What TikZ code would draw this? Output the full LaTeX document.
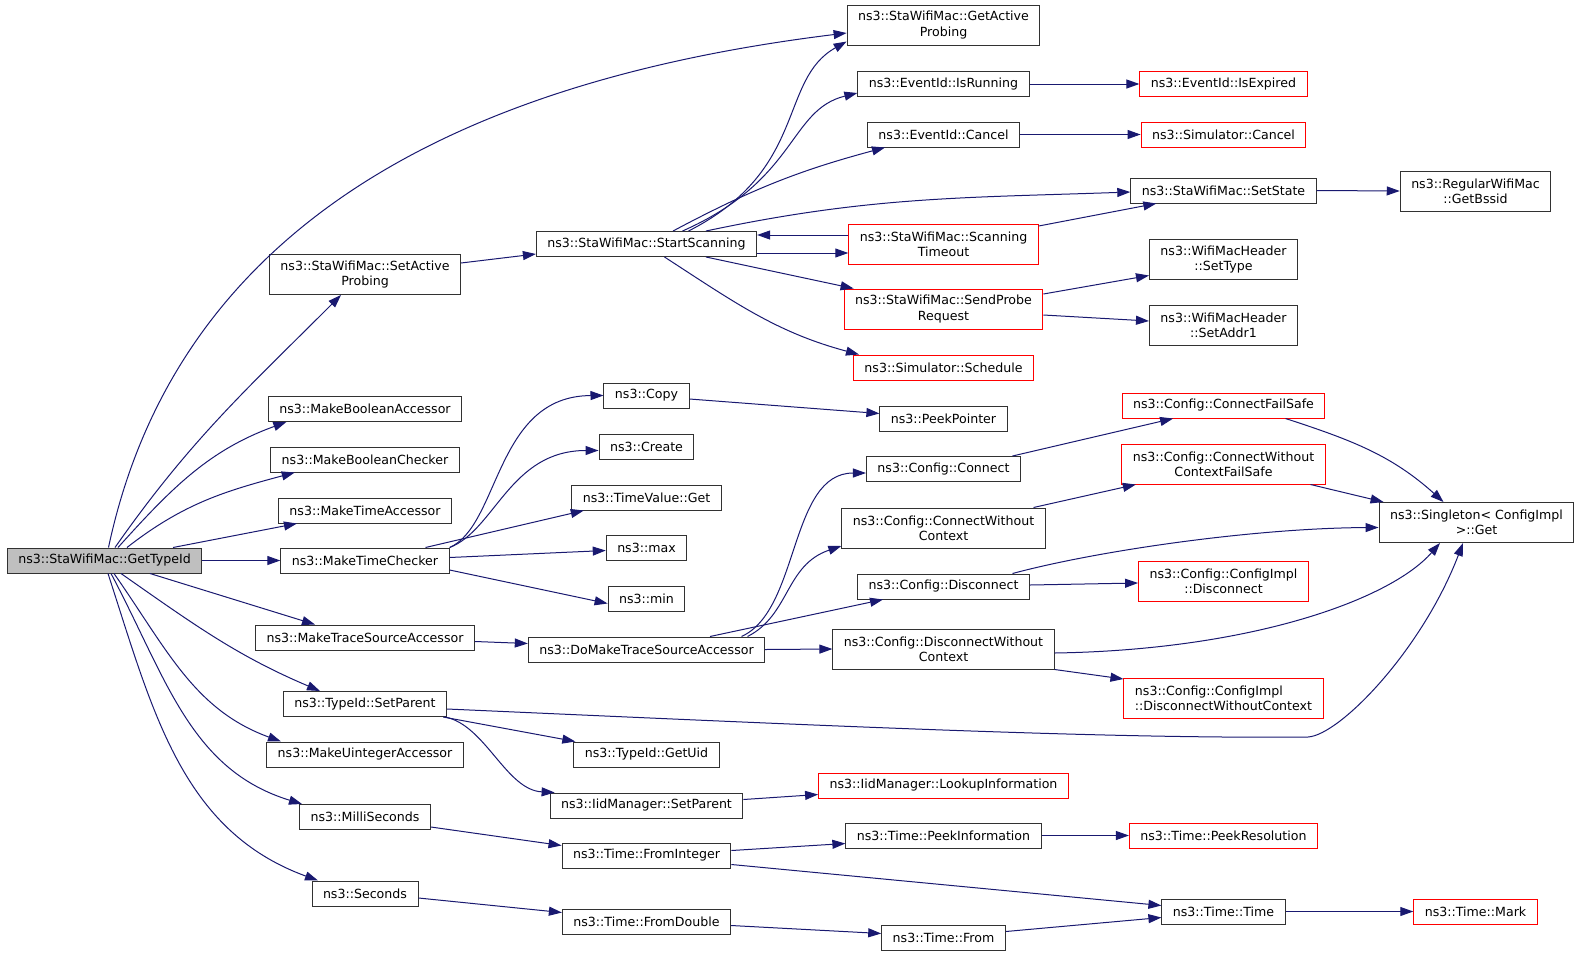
\documentclass[tikz,border=0pt]{standalone}
\usepackage{fontspec}
\setmainfont{DejaVu Sans}
\usepackage{tikz}
\usetikzlibrary{arrows.meta, positioning}
\definecolor{edgeblue}{RGB}{25, 25, 112}
\definecolor{boxgray}{RGB}{50, 50, 50}
\definecolor{rootfill}{RGB}{191, 191, 191}
\definecolor{boxred}{RGB}{255, 0, 0}

\begin{document}
\begin{tikzpicture}[x=1pt, y=-1pt,
  fnbox/.style={draw=boxgray, line width=1pt, fill=white, font=\fontsize{12.6}{15.3}\selectfont, inner xsep=11pt, inner ysep=2pt, minimum height=25pt, align=center},
  fntwo/.style={fnbox, minimum height=40pt},
  fnred/.style={draw=boxred},
  fnroot/.style={fill=rootfill},
  callarrow/.style={-{Triangle[length=13pt, width=9pt]}, line width=1pt, color=edgeblue}]
  \useasboundingbox (0, 0) rectangle (1581, 956);

  % Root
  \node[fnbox, fnroot] (gettypeid) at (104.5, 560.5) {ns3::StaWifiMac::GetTypeId};

  % Level 1
  \node[fntwo] (setap) at (365, 274.5) {ns3::StaWifiMac::SetActive\\Probing};
  \node[fnbox] (mkboolacc) at (365, 409) {ns3::MakeBooleanAccessor};
  \node[fnbox] (mkboolchk) at (365, 459.5) {ns3::MakeBooleanChecker};
  \node[fnbox] (mktimeacc) at (365, 510.5) {ns3::MakeTimeAccessor};
  \node[fnbox] (mktimechk) at (365, 560.5) {ns3::MakeTimeChecker};
  \node[fnbox] (mktrace) at (365, 637.5) {ns3::MakeTraceSourceAccessor};
  \node[fnbox] (setparent) at (365, 704) {ns3::TypeId::SetParent};
  \node[fnbox] (mkuint) at (365, 754.5) {ns3::MakeUintegerAccessor};
  \node[fnbox] (millisec) at (365, 817) {ns3::MilliSeconds};
  \node[fnbox] (seconds) at (365, 893.5) {ns3::Seconds};

  % Level 2
  \node[fnbox] (startscan) at (646.5, 244) {ns3::StaWifiMac::StartScanning};
  \node[fnbox] (copy) at (646.5, 395.5) {ns3::Copy};
  \node[fnbox] (create) at (646.5, 446.5) {ns3::Create};
  \node[fnbox] (tvget) at (646.5, 497.5) {ns3::TimeValue::Get};
  \node[fnbox] (tmax) at (646.5, 547.5) {ns3::max};
  \node[fnbox] (tmin) at (646.5, 598.5) {ns3::min};
  \node[fnbox] (domake) at (646.5, 649.5) {ns3::DoMakeTraceSourceAccessor};
  \node[fnbox] (getuid) at (646.5, 754.5) {ns3::TypeId::GetUid};
  \node[fnbox] (iidset) at (646.5, 805.5) {ns3::IidManager::SetParent};
  \node[fnbox] (fromint) at (646.5, 855.5) {ns3::Time::FromInteger};
  \node[fnbox] (fromdbl) at (646.5, 921.5) {ns3::Time::FromDouble};

  % Level 3
  \node[fntwo] (getap) at (943.5, 25) {ns3::StaWifiMac::GetActive\\Probing};
  \node[fnbox] (isrun) at (943.5, 84) {ns3::EventId::IsRunning};
  \node[fnbox] (evcancel) at (943.5, 134.5) {ns3::EventId::Cancel};
  \node[fntwo, fnred] (scantimeout) at (943.5, 244) {ns3::StaWifiMac::Scanning\\Timeout};
  \node[fntwo, fnred] (sendprobe) at (943.5, 309) {ns3::StaWifiMac::SendProbe\\Request};
  \node[fnbox, fnred] (schedule) at (943.5, 367.5) {ns3::Simulator::Schedule};
  \node[fnbox] (peekptr) at (943.5, 418.5) {ns3::PeekPointer};
  \node[fnbox] (cfgconn) at (943.5, 469) {ns3::Config::Connect};
  \node[fntwo] (connwoc) at (943.5, 528) {ns3::Config::ConnectWithout\\Context};
  \node[fnbox] (cfgdisc) at (943.5, 586.5) {ns3::Config::Disconnect};
  \node[fntwo] (discwoc) at (943.5, 649) {ns3::Config::DisconnectWithout\\Context};
  \node[fnbox, fnred] (lookup) at (943.5, 785.5) {ns3::IidManager::LookupInformation};
  \node[fnbox] (peekinfo) at (943.5, 835.5) {ns3::Time::PeekInformation};
  \node[fnbox] (timefrom) at (943.5, 937.5) {ns3::Time::From};

  % Level 4
  \node[fnbox, fnred] (isexp) at (1223.5, 84) {ns3::EventId::IsExpired};
  \node[fnbox, fnred] (simcancel) at (1223.5, 134.5) {ns3::Simulator::Cancel};
  \node[fnbox] (setstate) at (1223.5, 190.5) {ns3::StaWifiMac::SetState};
  \node[fntwo] (settype) at (1223.5, 259.5) {ns3::WifiMacHeader\\::SetType};
  \node[fntwo] (setaddr) at (1223.5, 325) {ns3::WifiMacHeader\\::SetAddr1};
  \node[fnbox, fnred] (connfs) at (1223.5, 405.5) {ns3::Config::ConnectFailSafe};
  \node[fntwo, fnred] (connwocfs) at (1223.5, 464) {ns3::Config::ConnectWithout\\ContextFailSafe};
  \node[fntwo, fnred] (cidisc) at (1223.5, 581) {ns3::Config::ConfigImpl\\::Disconnect};
  \node[fntwo, fnred, align=left] (cidiscwoc) at (1223.5, 698.5) {ns3::Config::ConfigImpl\\::DisconnectWithoutContext};
  \node[fnbox, fnred] (peekres) at (1223.5, 835.5) {ns3::Time::PeekResolution};
  \node[fnbox] (timetime) at (1223.5, 911.5) {ns3::Time::Time};

  % Level 5
  \node[fntwo] (getbssid) at (1475.5, 191) {ns3::RegularWifiMac\\::GetBssid};
  \node[fntwo] (singleton) at (1476.5, 522.5) {ns3::Singleton< ConfigImpl\\>::Get};
  \node[fnbox, fnred] (mark) at (1475.5, 911.5) {ns3::Time::Mark};

  % Calls from GetTypeId
  \draw[callarrow] ([xshift=4pt]gettypeid.north) to[out=78, in=187] ([yshift=-8pt]getap.west);
  \draw[callarrow] ([xshift=10.5pt]gettypeid.north) to[out=55, in=225] ([xshift=-24pt]setap.south);
  \draw[callarrow] ([xshift=13.5pt]gettypeid.north) to[out=48, in=200] ([xshift=18.5pt]mkboolacc.south west);
  \draw[callarrow] ([xshift=22.5pt]gettypeid.north) to[out=38, in=195] ([xshift=24.5pt]mkboolchk.south west);
  \draw[callarrow] ([xshift=68.5pt]gettypeid.north) -- ([xshift=19pt]mktimeacc.south west);
  \draw[callarrow] (gettypeid.east) -- (mktimechk.west);
  \draw[callarrow] ([xshift=45.5pt]gettypeid.south) -- ([xshift=-50pt]mktrace.north);
  \draw[callarrow] ([xshift=16.5pt]gettypeid.south) to[out=-35, in=157] ([xshift=-45pt]setparent.north);
  \draw[callarrow] ([xshift=9.5pt]gettypeid.south) to[out=-55, in=160] ([xshift=-84pt]mkuint.north);
  \draw[callarrow] ([xshift=6.5pt]gettypeid.south) to[out=-62, in=163] ([xshift=-63pt]millisec.north);
  \draw[callarrow] ([xshift=3.5pt]gettypeid.south) to[out=-72, in=160] ([xshift=-47pt]seconds.north);

  % Scanning
  \draw[callarrow] ([yshift=11.5pt]setap.east) -- ([yshift=-10pt]startscan.west);
  \draw[callarrow] ([xshift=42pt]startscan.north) .. controls (808.6, 170) and (778, 80) .. ([yshift=4pt]getap.south west);
  \draw[callarrow] ([xshift=36pt]startscan.north) .. controls (798, 180) and (788.6, 110) .. ([yshift=4pt]isrun.south west);
  \draw[callarrow] ([xshift=26.5pt]startscan.north) to[out=28, in=195] ([xshift=18pt]evcancel.south west);
  \draw[callarrow] ([xshift=59.5pt]startscan.north) to[out=12, in=182] ([yshift=-1.5pt]setstate.west);
  \draw[callarrow] ([yshift=-9pt]startscan.east) -- ([yshift=-9pt]scantimeout.west);
  \draw[callarrow] ([yshift=9pt]scantimeout.west) -- ([yshift=9pt]startscan.east);
  \draw[callarrow] ([xshift=59.5pt]startscan.south) -- ([xshift=10pt]sendprobe.north west);
  \draw[callarrow] ([xshift=18pt]startscan.south) to[out=-33, in=165] ([xshift=6pt]schedule.north west);
  \draw[callarrow] (isrun.east) -- (isexp.west);
  \draw[callarrow] (evcancel.east) -- (simcancel.west);
  \draw[callarrow] ([yshift=18pt]scantimeout.east) -- ([xshift=26pt]setstate.south west);
  \draw[callarrow] (setstate.east) -- (getbssid.west);
  \draw[callarrow] ([yshift=15pt]sendprobe.east) -- ([yshift=-16pt]settype.west);
  \draw[callarrow] ([yshift=-6pt]sendprobe.east) -- ([yshift=4pt]setaddr.west);

  % MakeTimeChecker
  \draw[callarrow] (mktimechk.north east) .. controls (500, 525) and (495, 396) .. (copy.west);
  \draw[callarrow] (mktimechk.north east) .. controls (495, 530) and (510, 450.5) .. ([yshift=-4pt]create.west);
  \draw[callarrow] ([xshift=60.5pt]mktimechk.north) -- ([xshift=12.5pt]tvget.south west);
  \draw[callarrow] ([yshift=3pt]mktimechk.east) -- ([yshift=-3pt]tmax.west);
  \draw[callarrow] ([yshift=-9.5pt]mktimechk.east) -- ([yshift=-5pt]tmin.west);
  \draw[callarrow] ([yshift=-3.5pt]copy.east) -- ([yshift=5pt]peekptr.west);

  % Trace source
  \draw[callarrow] ([yshift=-4pt]mktrace.east) -- ([yshift=6pt]domake.west);
  \draw[callarrow] ([xshift=95pt]domake.north) .. controls (800, 610) and (789, 473) .. ([yshift=-4pt]cfgconn.west);
  \draw[callarrow] ([xshift=101pt]domake.north) .. controls (790, 615) and (785, 565) .. ([yshift=-18pt]connwoc.west);
  \draw[callarrow] ([xshift=63.5pt]domake.north) -- ([xshift=26pt]cfgdisc.south west);
  \draw[callarrow] (domake.east) -- (discwoc.west);

  % Config
  \draw[callarrow] ([xshift=69pt]cfgconn.north) -- ([xshift=51.5pt]connfs.south west);
  \draw[callarrow] ([xshift=62pt]connfs.south) to[out=-18, in=138] ([xshift=-33pt]singleton.north);
  \draw[callarrow] ([xshift=90pt]connwoc.north) -- ([xshift=14.5pt]connwocfs.south west);
  \draw[callarrow] ([xshift=87pt]connwocfs.south) -- ([xshift=5pt]singleton.north west);
  \draw[callarrow] ([xshift=69pt]cfgdisc.north) .. controls (1100, 550) and (1257, 528) .. ([yshift=-5pt]singleton.west);
  \draw[callarrow] ([yshift=1.5pt]cfgdisc.east) -- ([yshift=-2pt]cidisc.west);
  \draw[callarrow] ([yshift=-4pt]discwoc.east) .. controls (1250, 650) and (1390, 600) .. ([xshift=-36.5pt]singleton.south);
  \draw[callarrow] (discwoc.south east) -- ([yshift=-1pt]cidiscwoc.north west);

  % SetParent
  \draw[callarrow] ([xshift=-4pt]setparent.south east) -- ([xshift=2pt]getuid.north west);
  \draw[callarrow] ([xshift=-2pt]setparent.south east) .. controls (485.5, 725) and (506, 790) .. ([xshift=5pt]iidset.north west);
  \draw[callarrow] ([yshift=-5pt]setparent.east) .. controls (809, 725) and (1102, 739) .. (1308, 737) .. controls (1340, 735) and (1422, 650) .. ([xshift=-13.5pt]singleton.south);
  \draw[callarrow] ([yshift=6pt]iidset.east) -- ([yshift=-9pt]lookup.west);

  % Time
  \draw[callarrow] ([yshift=-10pt]millisec.east) -- ([yshift=10pt]fromint.west);
  \draw[callarrow] ([yshift=-4.5pt]seconds.east) -- ([yshift=9pt]fromdbl.west);
  \draw[callarrow] ([yshift=5pt]fromint.east) -- ([yshift=-8pt]peekinfo.west);
  \draw[callarrow] ([yshift=-9pt]fromint.east) -- ([yshift=6pt]timetime.west);
  \draw[callarrow] ([yshift=-4pt]fromdbl.east) -- ([yshift=4pt]timefrom.west);
  \draw[callarrow] ([yshift=6pt]timefrom.east) -- ([yshift=-6pt]timetime.west);
  \draw[callarrow] (peekinfo.east) -- (peekres.west);
  \draw[callarrow] (timetime.east) -- (mark.west);
\end{tikzpicture}
\end{document}
